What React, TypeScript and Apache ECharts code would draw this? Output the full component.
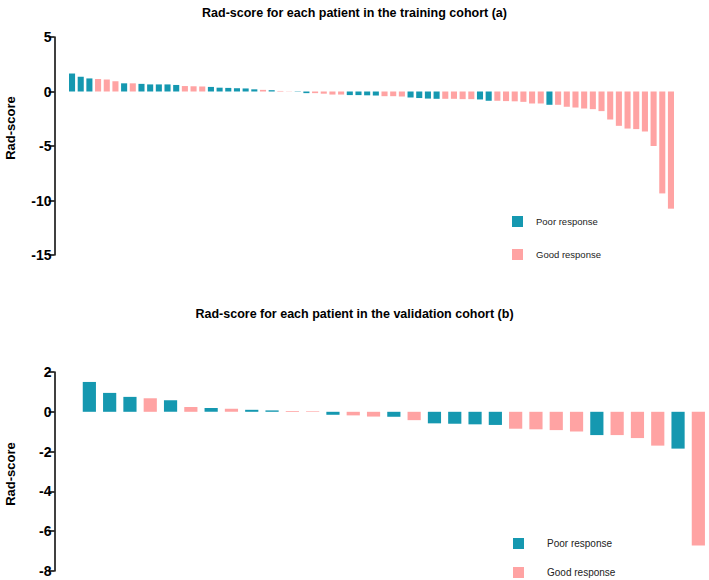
import React, { useEffect, useRef } from "react";
import * as echarts from "echarts";

// Training cohort (a): rad-score per patient, P = poor response, G = good response
const trainValues = [
  1.65, 1.35, 1.2, 1.15, 1.1, 0.95, 0.75, 0.75, 0.7, 0.65,
  0.65, 0.65, 0.6, 0.5, 0.48, 0.46, 0.42, 0.35, 0.33, 0.3,
  0.28, 0.2, 0.15, 0.12, 0.05, 0.02, -0.03, -0.15, -0.15, -0.2,
  -0.28, -0.28, -0.33, -0.33, -0.35, -0.37, -0.43, -0.43, -0.46, -0.55,
  -0.6, -0.65, -0.67, -0.67, -0.67, -0.7, -0.7, -0.73, -0.85, -0.85,
  -0.88, -0.9, -0.95, -1.1, -1.1, -1.22, -1.22, -1.4, -1.47, -1.56,
  -1.62, -1.8, -2.57, -3.15, -3.4, -3.45, -3.67, -5.0, -9.35, -10.75,
];
const trainGroups = [
  "P", "P", "P", "G", "G", "G", "P", "G", "P", "P",
  "P", "P", "P", "G", "G", "G", "P", "P", "P", "P",
  "P", "P", "G", "P", "G", "G", "P", "P", "G", "G",
  "G", "G", "P", "P", "P", "P", "G", "G", "G", "P",
  "P", "P", "P", "G", "G", "G", "G", "P", "P", "G",
  "G", "G", "G", "G", "G", "P", "G", "G", "G", "G",
  "G", "G", "G", "G", "G", "G", "G", "G", "G", "G",
];

// Validation cohort (b)
const validValues = [
  1.5, 0.95, 0.75, 0.68, 0.58, 0.24, 0.19, 0.15, 0.1, 0.07,
  0.04, 0.03, -0.15, -0.18, -0.24, -0.25, -0.42, -0.58, -0.6, -0.63,
  -0.66, -0.85, -0.88, -0.92, -0.99, -1.17, -1.17, -1.32, -1.7, -1.85,
  -6.72,
];
const validGroups = [
  "P", "P", "P", "G", "P", "G", "P", "G", "P", "P",
  "G", "G", "P", "G", "G", "P", "G", "P", "P", "P",
  "P", "G", "G", "G", "G", "P", "G", "G", "G", "P",
  "G",
];

const trainTicks = { min: -15, max: 5, interval: 5 };
const validTicks = { min: -8, max: 2, interval: 2 };

const titles = [
  "Rad-score for each patient in the training cohort (a)",
  "Rad-score for each patient in the validation cohort (b)",
];
const seriesNames = ["Poor response", "Good response"];

const TEAL = "#1598B0";
const PINK = "#FFA3A3";
const FONT = "'Liberation Sans', Arial, sans-serif";

function split(values: number[], groups: string[], g: string) {
  return values.map((v, i) => (groups[i] === g ? v : "-"));
}

export default function App() {
  const ref = useRef<HTMLDivElement>(null);

  useEffect(() => {
    if (!ref.current) return;
    const chart = echarts.init(ref.current, undefined, { renderer: "svg" });

    const yAxisCommon = {
      type: "value" as const,
      axisLine: { show: true, lineStyle: { color: "#000", width: 1.5 } },
      axisTick: { show: true, length: 6, lineStyle: { color: "#000", width: 1.5 } },
      axisLabel: { color: "#000", fontWeight: "bold", fontSize: 14, fontFamily: FONT, margin: 3 },
      splitLine: { show: false },
    };

    const option: any = {
      animation: false,
      backgroundColor: "#fff",
      title: [
        {
          text: titles[0],
          left: "center",
          top: 1,
          textStyle: { fontSize: 12.5, fontWeight: "bold", fontFamily: FONT, color: "#000" },
        },
        {
          text: titles[1],
          left: "center",
          top: 302,
          textStyle: { fontSize: 12.5, fontWeight: "bold", fontFamily: FONT, color: "#000" },
        },
      ],
      legend: [
        {
          orient: "vertical",
          left: 512,
          top: 216,
          padding: 0,
          itemWidth: 11,
          itemHeight: 11,
          itemGap: 22,
          icon: "rect",
          data: seriesNames,
          textStyle: { fontSize: 9.5, fontFamily: FONT, color: "#222", padding: [0, 0, 0, 8] },
        },
        {
          orient: "vertical",
          left: 513,
          top: 538,
          padding: 0,
          height: 42,
          itemWidth: 11,
          itemHeight: 11,
          itemGap: 18,
          icon: "rect",
          data: seriesNames,
          textStyle: { fontSize: 10, fontFamily: FONT, color: "#222", padding: [0, 0, 0, 18] },
        },
      ],
      grid: [
        { left: 67.7, width: 607.6, top: 37, height: 218 },
        { left: 79.2, width: 629.3, top: 372, height: 199 },
      ],
      xAxis: [
        { type: "category", gridIndex: 0, data: trainValues.map((_, i) => String(i + 1)), show: false },
        { type: "category", gridIndex: 1, data: validValues.map((_, i) => String(i + 1)), show: false },
      ],
      yAxis: [
        { ...yAxisCommon, gridIndex: 0, ...trainTicks, offset: 13.2 },
        { ...yAxisCommon, gridIndex: 1, ...validTicks, offset: 24.7 },
      ],
      graphic: [
        {
          type: "text",
          x: 10,
          y: 128,
          rotation: Math.PI / 2,
          style: {
            text: "Rad-score",
            fontSize: 13,
            fontWeight: "bold",
            fontFamily: FONT,
            fill: "#000",
            align: "center",
            verticalAlign: "middle",
          },
        },
        {
          type: "text",
          x: 10,
          y: 474,
          rotation: Math.PI / 2,
          style: {
            text: "Rad-score",
            fontSize: 13,
            fontWeight: "bold",
            fontFamily: FONT,
            fill: "#000",
            align: "center",
            verticalAlign: "middle",
          },
        },
      ],
      series: [
        {
          name: seriesNames[0],
          type: "bar",
          xAxisIndex: 0,
          yAxisIndex: 0,
          data: split(trainValues, trainGroups, "P"),
          barWidth: "70%",
          barGap: "-100%",
          itemStyle: { color: TEAL },
        },
        {
          name: seriesNames[1],
          type: "bar",
          xAxisIndex: 0,
          yAxisIndex: 0,
          data: split(trainValues, trainGroups, "G"),
          barWidth: "70%",
          barGap: "-100%",
          itemStyle: { color: PINK },
        },
        {
          name: seriesNames[0],
          type: "bar",
          xAxisIndex: 1,
          yAxisIndex: 1,
          data: split(validValues, validGroups, "P"),
          barWidth: "65%",
          barGap: "-100%",
          itemStyle: { color: TEAL },
        },
        {
          name: seriesNames[1],
          type: "bar",
          xAxisIndex: 1,
          yAxisIndex: 1,
          data: split(validValues, validGroups, "G"),
          barWidth: "65%",
          barGap: "-100%",
          itemStyle: { color: PINK },
        },
      ],
    };

    chart.setOption(option);
    return () => chart.dispose();
  }, []);

  return (
    <div
      ref={ref}
      style={{ position: "fixed", left: 0, top: 0, width: 709, height: 580, background: "#fff" }}
    />
  );
}
